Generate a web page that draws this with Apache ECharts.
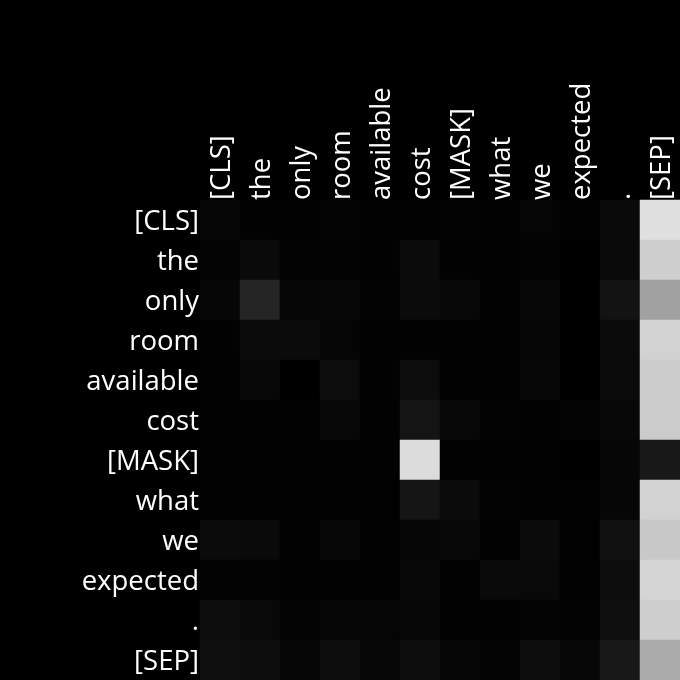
<!DOCTYPE html>
<html>
<head>
<meta charset="utf-8">
<script src="https://cdn.jsdelivr.net/npm/echarts@6/dist/echarts.min.js"></script>
<style>html,body{margin:0;padding:0;background:#000;}#c{width:680px;height:680px;}</style>
</head>
<body>
<div id="c"></div>
<script>
const tokens = ['[CLS]','the','only','room','available','cost','[MASK]','what','we','expected','.','[SEP]'];
// attention weights (row = query token, col = key token), read as gray level / 255
const row0  = [6,2,2,4,2,1,3,2,5,1,10,223];
const row1  = [4,10,3,3,2,11,2,1,3,0,10,207];
const row2  = [6,37,5,7,3,11,8,1,7,0,19,161];
const row3  = [2,11,11,5,1,2,1,1,6,0,11,210];
const row4  = [1,8,0,12,2,12,1,1,7,0,11,204];
const row5  = [2,1,1,8,2,20,8,3,2,4,8,203];
const row6  = [1,1,1,1,1,220,1,1,1,0,6,24];
const row7  = [1,1,1,1,1,21,11,3,1,2,6,210];
const row8  = [11,10,1,7,2,5,8,1,11,1,17,200];
const row9  = [3,3,2,1,1,8,1,10,9,1,13,213];
const row10 = [12,9,4,6,5,7,1,2,4,3,15,206];
const row11 = [15,12,6,12,7,12,6,4,12,7,24,170];
const rows = [row0,row1,row2,row3,row4,row5,row6,row7,row8,row9,row10,row11];

const data = [];
rows.forEach((r, i) => r.forEach((v, j) => data.push([j, i, v / 255])));

const chart = echarts.init(document.getElementById('c'));
const font = '"Open Sans", "Noto Sans", sans-serif';
const richY = { t: { color: '#fff', fontSize: 27.5, fontFamily: font, padding: [4, 0, 0, 0] } };
const richX = { t: { color: '#fff', fontSize: 27.5, fontFamily: font, padding: [4, 0, 0, 0] } };
chart.setOption({
  backgroundColor: '#000',
  animation: false,
  grid: { left: 200, top: 200, right: 0, bottom: 0 },
  xAxis: {
    type: 'category', data: tokens, position: 'top',
    axisLine: { show: false }, axisTick: { show: false }, splitLine: { show: false },
    axisLabel: { rotate: -90, margin: 0, interval: 0, formatter: v => '{t|' + v + '}', rich: richX }
  },
  yAxis: {
    type: 'category', data: tokens, inverse: true,
    axisLine: { show: false }, axisTick: { show: false }, splitLine: { show: false },
    axisLabel: { margin: 1, interval: 0, formatter: v => '{t|' + v + '}', rich: richY }
  },
  visualMap: { show: false, min: 0, max: 1, inRange: { color: ['#000000', '#ffffff'] } },
  series: [{ type: 'heatmap', data: data, itemStyle: { borderWidth: 0 } }]
});
</script>
</body>
</html>
